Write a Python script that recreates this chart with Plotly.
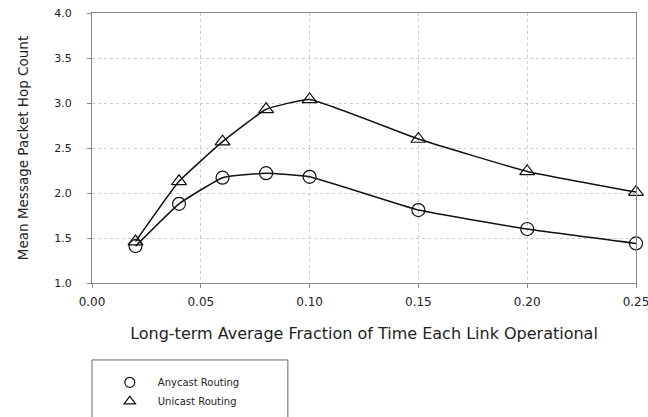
import plotly.graph_objects as go

x_vals = [0.02, 0.04, 0.06, 0.08, 0.10, 0.15, 0.20, 0.25]
anycast = [1.41, 1.88, 2.17, 2.22, 2.18, 1.81, 1.60, 1.44]
unicast = [1.46, 2.13, 2.57, 2.93, 3.04, 2.60, 2.24, 2.01]
x_ticks = [0.00, 0.05, 0.10, 0.15, 0.20, 0.25]
x_tick_labels = ["0.00", "0.05", "0.10", "0.15", "0.20", "0.25"]
y_ticks = [1.0, 1.5, 2.0, 2.5, 3.0, 3.5, 4.0]
y_tick_labels = ["1.0", "1.5", "2.0", "2.5", "3.0", "3.5", "4.0"]

FONT = "DejaVu Sans"
TXT = "#222222"

fig = go.Figure()
for name, ys, sym in [("Anycast Routing", anycast, "circle-open"),
                      ("Unicast Routing", unicast, "triangle-up-open")]:
    fig.add_trace(go.Scatter(
        x=x_vals, y=ys, mode="lines+markers", showlegend=False,
        line=dict(color="#111111", width=1.5, shape="spline", smoothing=0.35),
        marker=dict(symbol=sym, size=13, color="#111111", line=dict(width=1.2)),
        cliponaxis=False,
    ))
    # legend-only entry (marker only)
    fig.add_trace(go.Scatter(
        x=[None], y=[None], mode="markers", name=name,
        marker=dict(symbol=sym, size=10, color="#111111", line=dict(width=1.2)),
    ))

fig.add_shape(type="rect", xref="paper", yref="paper",
              x0=0.0, x1=0.36, y0=-0.285, y1=-0.56,
              line=dict(color="#666666", width=1), layer="above")

fig.update_layout(
    width=648, height=417,
    margin=dict(l=92, r=12, t=13, b=134, autoexpand=False),
    plot_bgcolor="white", paper_bgcolor="white",
    font=dict(family=FONT, color=TXT, size=11),
    showlegend=True,
    legend=dict(x=0.018, y=0.118, xref="paper", yref="container",
                xanchor="left", yanchor="top",
                bgcolor="rgba(0,0,0,0)", borderwidth=0,
                itemwidth=46, tracegroupgap=0,
                font=dict(family=FONT, size=10, color=TXT)),
    xaxis=dict(range=[0, 0.25], tickvals=x_ticks, ticktext=x_tick_labels,
               showgrid=True, gridcolor="#cccccc", griddash="dot", gridwidth=1,
               showline=True, linecolor="#888888", linewidth=1, mirror=True,
               ticks="outside", ticklen=4, tickcolor="#888888",
               ticklabelstandoff=4, automargin=False, ticklabeloverflow="allow",
               tickfont=dict(family=FONT, size=12, color=TXT),
               zeroline=False,
               title=dict(text="Long-term Average Fraction of Time Each Link Operational",
                          font=dict(family=FONT, size=16, color=TXT), standoff=19)),
    yaxis=dict(range=[1.0, 4.0], tickvals=y_ticks, ticktext=y_tick_labels,
               showgrid=True, gridcolor="#cccccc", griddash="dot", gridwidth=1,
               showline=True, linecolor="#888888", linewidth=1, mirror=True,
               ticks="outside", ticklen=4, tickcolor="#888888",
               ticklabelstandoff=13, automargin=False, ticklabeloverflow="allow",
               tickfont=dict(family=FONT, size=11, color=TXT),
               zeroline=False,
               title=dict(text="Mean Message Packet Hop Count",
                          font=dict(family=FONT, size=13.5, color=TXT),
                          standoff=22)),
)

fig.write_html("out.html")
